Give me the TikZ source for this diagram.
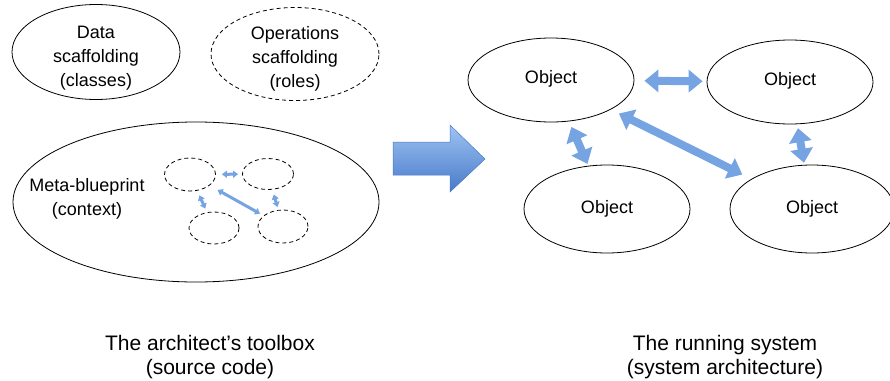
\documentclass[tikz,border=0pt]{standalone}
\usepackage{fontspec}
\setmainfont{Liberation Sans}
\usetikzlibrary{shapes.geometric,arrows.meta}
\definecolor{arrowblue}{RGB}{118,163,226}
\definecolor{arrowdark}{RGB}{72,122,202}
\definecolor{arrowlight}{RGB}{158,196,242}

\begin{document}
\begin{tikzpicture}[x=1pt,y=1pt]
\tikzstyle{every node}+=[inner sep=0pt]
\tikzstyle{oval}=[draw=black, line width=0.8pt, ellipse]
\tikzstyle{ovaldash}=[oval, dash pattern=on 4pt off 3pt]
\tikzstyle{txt}=[align=center, font=\fontsize{18}{24}\selectfont]
\tikzstyle{caption}=[align=center, font=\fontsize{21}{24}\selectfont]
\tikzstyle{bigarrow}=[arrowblue, line width=8pt, {Triangle[width=22pt,length=14pt]}-{Triangle[width=22pt,length=14pt]}]
\tikzstyle{smallarrow}=[arrowblue, line width=3pt, {Triangle[width=7pt,length=5pt]}-{Triangle[width=7pt,length=5pt]}]
\useasboundingbox (0,0) rectangle (890,-380);
% toolbox side
\node [oval, minimum width=168, minimum height=95] (data) at (96,-52) {};
\node [txt] (data-t) at (96,-58) {Data\\scaffolding\\(classes)};
\node [ovaldash, minimum width=168, minimum height=93] (ops) at (295,-54) {};
\node [txt] (ops-t) at (295,-59) {Operations\\scaffolding\\(roles)};
\node [oval, minimum width=366, minimum height=160] (meta) at (196,-202) {};
\node [txt] (meta-t) at (87,-199) {Meta-blueprint\\(context)};
\node [ovaldash, minimum width=51, minimum height=33] (s1) at (190,-174.5) {};
\node [ovaldash, minimum width=51, minimum height=31] (s2) at (268,-174) {};
\node [ovaldash, minimum width=50, minimum height=32] (s3) at (214,-228) {};
\node [ovaldash, minimum width=50, minimum height=33] (s4) at (283,-226.5) {};
\draw [smallarrow, shorten <=6pt, shorten >=4pt] (s1) -- (s2);
\draw [smallarrow, shorten <=9pt, shorten >=4pt] (s1) -- (s4);
\draw [smallarrow, shorten <=5pt, shorten >=4pt] (s1) -- (s3);
\draw [smallarrow, shorten <=5pt, shorten >=3pt] (s2) -- (s4);
% the big arrow in the middle
\shade [top color=arrowlight, bottom color=arrowdark, draw=arrowdark, line width=0.5pt]
  (393,-142) -- (450,-142) -- (450,-125) -- (485,-159) -- (450,-192) -- (450,-175) -- (393,-175) -- cycle;
% running system side
\node [oval, minimum width=166, minimum height=84] (o1) at (551,-80) {};
\node [txt] (o1-t) at (551,-79) {Object};
\node [oval, minimum width=166, minimum height=84] (o2) at (790,-82) {};
\node [txt] (o2-t) at (790,-81) {Object};
\node [oval, minimum width=166, minimum height=88] (o3) at (607,-209) {};
\node [txt] (o3-t) at (607,-209) {Object};
\node [oval, minimum width=164, minimum height=88] (o4) at (812,-209) {};
\node [txt] (o4-t) at (812,-209) {Object};
\draw [bigarrow, shorten <=10pt, shorten >=4pt] (o1) -- (o2);
\draw [bigarrow, shorten <=9pt, shorten >=10pt] (o1) -- (o4);
\draw [bigarrow, shorten <=6pt, shorten >=2pt] (o1) -- (o3);
\draw [bigarrow, shorten <=4pt, shorten >=2pt] (o2) -- (o4);
% captions
\node [caption] (tools) at (210,-357) {The architect’s toolbox\\(source code)};
\node [caption] (system) at (725,-357) {The running system\\(system architecture)};
\end{tikzpicture}
\end{document}
